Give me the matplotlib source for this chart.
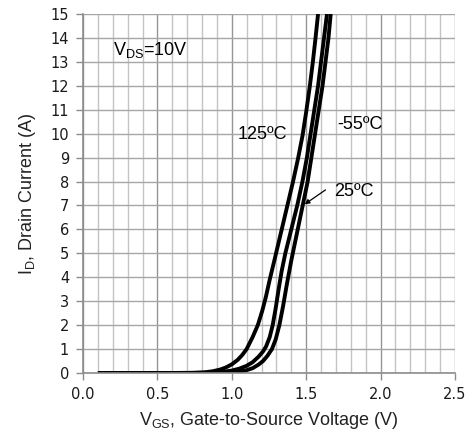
import numpy as np
import matplotlib
matplotlib.use("Agg")
import matplotlib.pyplot as plt
from matplotlib.ticker import MultipleLocator

plt.rcParams['font.family'] = ['Liberation Sans', 'DejaVu Sans']
plt.rcParams['mathtext.fontset'] = 'custom'
plt.rcParams['mathtext.rm'] = 'Liberation Sans'
plt.rcParams['mathtext.it'] = 'Liberation Sans'

# transfer characteristics
# 125 C
vgs_125 = [0.10, 0.60, 0.75, 0.82, 0.87, 0.92, 0.96, 1.00, 1.04, 1.07, 1.10, 1.14, 1.175,
           1.205, 1.23, 1.255, 1.29, 1.33, 1.37, 1.41, 1.445, 1.475, 1.50, 1.525,
           1.545, 1.563, 1.58]
id_125 = [0.0, 0.0, 0.01, 0.03, 0.07, 0.14, 0.23, 0.36, 0.55, 0.75, 1.0, 1.5, 2.0,
          2.6, 3.2, 3.9, 4.8, 5.85, 6.9, 7.95, 8.95, 9.9, 10.9, 12.0,
          13.0, 14.0, 15.0]
# 25 C
vgs_25 = [0.10, 0.70, 0.85, 0.93, 1.00, 1.05, 1.10, 1.14, 1.18, 1.21, 1.23, 1.255,
          1.275, 1.295, 1.315, 1.335, 1.36, 1.40, 1.44, 1.475, 1.505, 1.53, 1.555,
          1.58, 1.60, 1.62, 1.64]
id_25 = [0.0, 0.0, 0.01, 0.04, 0.10, 0.18, 0.30, 0.45, 0.68, 0.90, 1.1, 1.5,
         2.0, 2.7, 3.5, 4.25, 5.0, 6.0, 7.0, 8.0, 9.0, 10.0, 11.0,
         12.0, 13.0, 14.0, 15.0]
# -55 C
vgs_m55 = [0.10, 0.80, 0.95, 1.03, 1.09, 1.14, 1.18, 1.21, 1.24, 1.27, 1.295, 1.32,
           1.345, 1.37, 1.40, 1.43, 1.46, 1.49, 1.51, 1.535, 1.56, 1.585, 1.61,
           1.63, 1.65, 1.665]
id_m55 = [0.0, 0.0, 0.01, 0.04, 0.10, 0.20, 0.35, 0.50, 0.72, 1.0, 1.4, 2.0,
          2.8, 3.7, 4.7, 5.6, 6.5, 7.4, 8.0, 9.0, 10.0, 11.0, 12.0,
          13.0, 14.0, 15.0]

fig = plt.figure(figsize=(4.69, 4.32), dpi=100)
ax = fig.add_axes([0.177, 0.1366, 0.793, 0.831])

ax.set_xlim(0, 2.5)
ax.set_ylim(0, 15)
ax.xaxis.set_major_locator(MultipleLocator(0.5))
ax.xaxis.set_minor_locator(MultipleLocator(0.1))
ax.yaxis.set_major_locator(MultipleLocator(1))

ax.grid(which='minor', axis='x', color='#c4c4c4', lw=1.0)
ax.grid(which='major', axis='x', color='#959595', lw=1.0)
ax.grid(which='major', axis='y', color='#a6a6a6', lw=1.0)
ax.set_axisbelow(True)

for s in ['top', 'right']:
    ax.spines[s].set_visible(False)
for s in ['left', 'bottom']:
    ax.spines[s].set_color('#8c8c8c')
    ax.spines[s].set_linewidth(1.2)

ax.tick_params(which='major', direction='out', length=5, width=1.0, color='#8c8c8c',
               pad=5, labelsize=10.5, labelcolor='#1a1a1a')
ax.tick_params(which='minor', length=0)
ax.set_xticks(np.arange(0, 2.51, 0.5))
ax.set_xticklabels(['0.0', '0.5', '1.0', '1.5', '2.0', '2.5'])
for lab in ax.get_xticklabels() + ax.get_yticklabels():
    lab.set_family('DejaVu Sans')

ax.plot(vgs_125, id_125, color='black', lw=2.8, solid_capstyle='butt', solid_joinstyle='round')
ax.plot(vgs_25, id_25, color='black', lw=2.8, solid_capstyle='butt', solid_joinstyle='round')
ax.plot(vgs_m55, id_m55, color='black', lw=2.8, solid_capstyle='butt', solid_joinstyle='round')

ax.text(0.2, 13.5, r'V$_{\mathrm{DS}}$=10V', fontsize=13, va='center', ha='left')
ax.text(1.04, 9.95, '125ºC', fontsize=13, va='center', ha='left')
ax.text(1.71, 10.4, '-55ºC', fontsize=13, va='center', ha='left')
ax.text(1.69, 7.6, '25ºC', fontsize=13, va='center', ha='left')
ax.annotate('', xy=(1.49, 7.05), xytext=(1.63, 7.65),
            arrowprops=dict(arrowstyle='-|>', color='black', lw=0.9,
                            mutation_scale=7, shrinkA=0, shrinkB=0))

ax.set_xlabel(r'V$_{\mathrm{GS}}$, Gate-to-Source Voltage (V)', fontsize=13,
              color='#222222', labelpad=6)
ax.set_ylabel(r'I$_{\mathrm{D}}$, Drain Current (A)', fontsize=13,
              color='#222222', labelpad=9)

fig.savefig('out.png', dpi=100)
